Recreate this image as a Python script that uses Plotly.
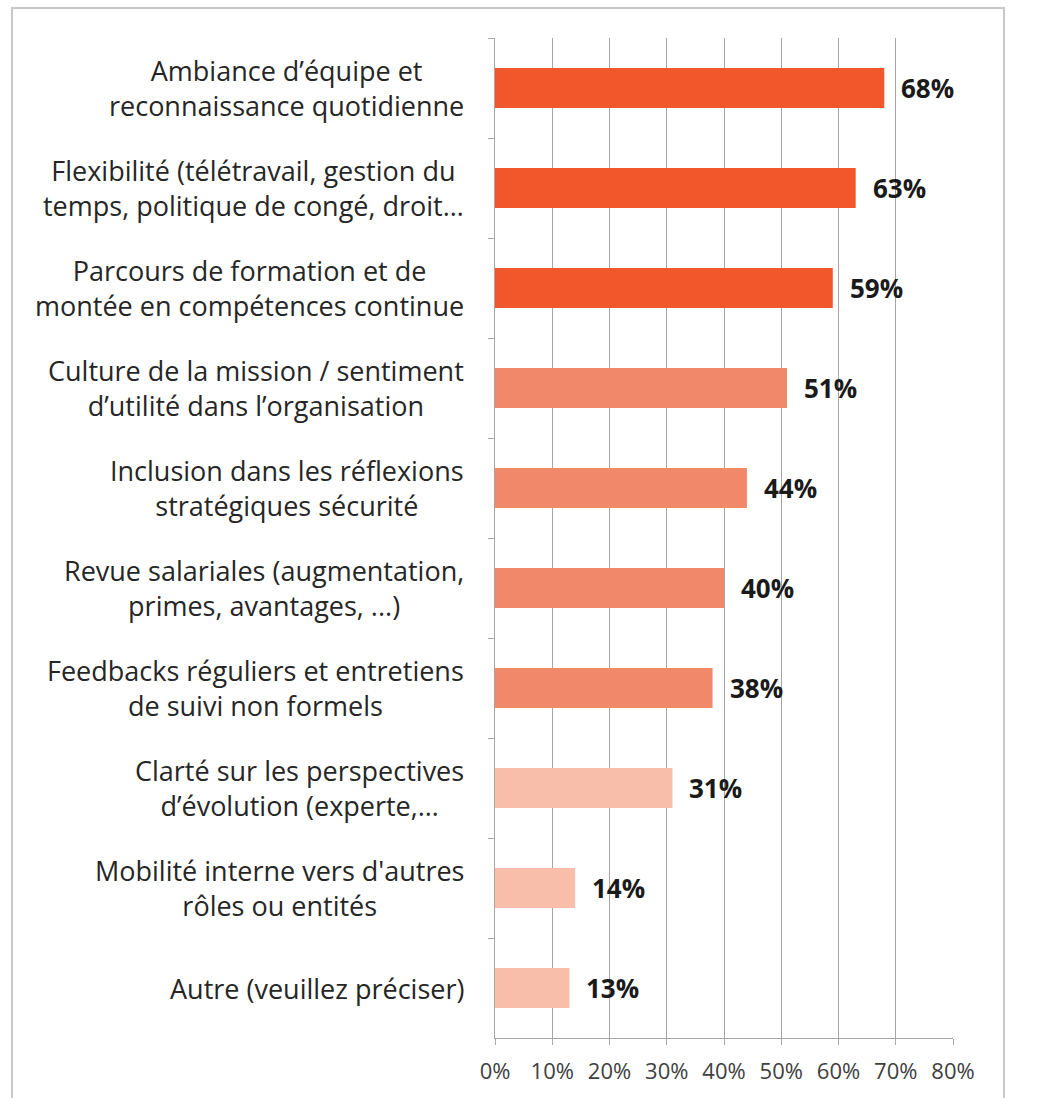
import plotly.graph_objects as go

# Survey answers (share of respondents), top to bottom
categories = [
    "Ambiance d’équipe et<br>reconnaissance quotidienne",
    "Flexibilité (télétravail, gestion du<br>temps, politique de congé, droit…",
    "Parcours de formation et de<br>montée en compétences continue",
    "Culture de la mission / sentiment<br>d’utilité dans l’organisation",
    "Inclusion dans les réflexions<br>stratégiques sécurité",
    "Revue salariales (augmentation,<br>primes, avantages, ...)",
    "Feedbacks réguliers et entretiens<br>de suivi non formels",
    "Clarté sur les perspectives<br>d’évolution (experte,…",
    "Mobilité interne vers d'autres<br>rôles ou entités",
    "Autre (veuillez préciser)",
]
shares = [0.68, 0.63, 0.59, 0.51, 0.44, 0.40, 0.38, 0.31, 0.14, 0.13]
x_ticks = [0, 0.1, 0.2, 0.3, 0.4, 0.5, 0.6, 0.7, 0.8]

# Three colour tiers for the bars
DARK, MID, LIGHT = "#F2572B", "#F2886A", "#F8BEA9"
bar_colors = [DARK] * 3 + [MID] * 4 + [LIGHT] * 3

W, H = 1037, 1098
ML, MR, MT, MB = 495, 84, 38, 60
plot_w = W - ML - MR
plot_h = H - MT - MB


def px_to_paper_x(px):
    return (px - ML) / plot_w


def px_to_paper_y(py):
    return 1 - (py - MT) / plot_h


FONT = "'Open Sans', sans-serif"

fig = go.Figure(
    go.Bar(
        x=shares,
        y=categories,
        orientation="h",
        marker=dict(color=bar_colors, line=dict(width=0)),
        width=0.4,
        hoverinfo="skip",
    )
)

annotations = []
for cat, val in zip(categories, shares):
    # category label, centred lines, right edge near the axis
    annotations.append(dict(
        x=px_to_paper_x(466), xref="paper", y=cat, yref="y",
        text=cat, showarrow=False, xanchor="right", align="center",
        font=dict(family=FONT, size=27, color="#262626"),
    ))
    # value label just past the bar end
    annotations.append(dict(
        x=val, xref="x", y=cat, yref="y",
        text=f"<b>{round(val * 100)}%</b>", showarrow=False,
        xanchor="left", xshift=15,
        font=dict(family=FONT, size=26, color="#1a1a1a"),
    ))

fig.update_layout(
    width=W, height=H,
    margin=dict(l=ML, r=MR, t=MT, b=MB),
    paper_bgcolor="white", plot_bgcolor="white",
    showlegend=False,
    annotations=annotations,
    shapes=[dict(
        type="rect", xref="paper", yref="paper",
        x0=px_to_paper_x(12), x1=px_to_paper_x(1004),
        y0=px_to_paper_y(1120), y1=px_to_paper_y(8),
        line=dict(color="#c8c8c8", width=2), layer="below",
    )],
)

fig.update_xaxes(
    range=[0, 0.8], tickvals=x_ticks, tickformat=".0%",
    showgrid=True, gridcolor="#a6a6a6", gridwidth=1.3,
    showline=True, linecolor="#a6a6a6", linewidth=1.3,
    ticks="outside", ticklen=6, tickcolor="#a6a6a6",
    ticklabelstandoff=7,
    tickfont=dict(family=FONT, size=22, color="#404040"),
    zeroline=False, fixedrange=True,
)
fig.update_yaxes(
    categoryorder="array", categoryarray=categories,
    autorange="reversed",
    showticklabels=False, showgrid=False,
    showline=True, linecolor="#a6a6a6", linewidth=1.3,
    ticks="outside", tickson="boundaries", ticklen=6, tickcolor="#a6a6a6",
    zeroline=False, fixedrange=True,
)

fig.write_html("out.html")
